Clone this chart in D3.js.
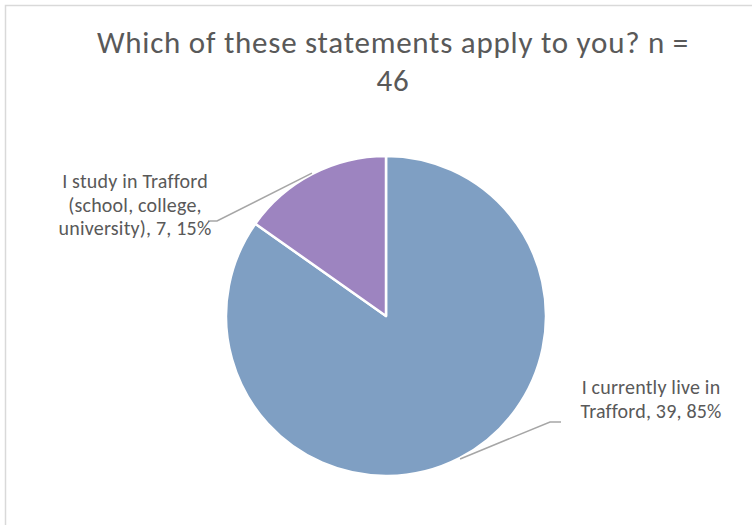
<!DOCTYPE html>
<html>
<head>
<meta charset="utf-8">
<script src="https://cdn.jsdelivr.net/npm/d3@7/dist/d3.min.js"></script>
<style>
  html, body { margin: 0; padding: 0; background: #fff; }
  svg { display: block; }
  text { font-family: Carlito, Lato, "Open Sans", sans-serif; fill: #595959; }
</style>
</head>
<body>
<svg id="chart" width="752" height="525"></svg>
<script>
// Survey responses
const categories = [
  "I currently live in Trafford",
  "I study in Trafford (school, college, university)"
];
const counts = [39, 7];
const colors = ["#7f9fc3", "#9d84c0"];
const titleLines = ["Which of these statements apply to you? n =", "46"];
// Data label text, broken into lines as they are displayed
const labelLines = [
  ["I currently live in", "Trafford, 39, 85%"],
  ["I study in Trafford", "(school, college,", "university), 7, 15%"]
];

const total = d3.sum(counts);
const svg = d3.select("#chart");

// Chart-area frame
svg.append("rect")
  .attr("x", 5.5).attr("y", 5.5)
  .attr("width", 800).attr("height", 600)
  .attr("fill", "#fff")
  .attr("stroke", "#d9d9d9").attr("stroke-width", 1.5);

// Title
const title = svg.append("text")
  .attr("text-anchor", "middle")
  .style("font-size", "31px")
  .style("letter-spacing", "0.75px");
title.selectAll("tspan").data(titleLines).join("tspan")
  .attr("x", 393)
  .attr("y", (d, i) => 53 + i * 38)
  .text(d => d);

// Pie
const cx = 386, cy = 316, radius = 160;
const pie = d3.pie().sort(null).startAngle(0).endAngle(2 * Math.PI);
const arc = d3.arc().innerRadius(0).outerRadius(radius);
const arcs = pie(counts);

const g = svg.append("g").attr("transform", `translate(${cx},${cy})`);
g.selectAll("path").data(arcs).join("path")
  .attr("d", arc)
  .attr("fill", (d, i) => colors[i])
  .attr("stroke", "#fff")
  .attr("stroke-width", 2.5)
  .attr("stroke-linejoin", "round");

// Label placement: elbow point of the leader line and text anchor, relative to pie centre
const labelLayout = [
  { elbow: [164, 106], hook: [175, 106], tx: 265, ty: 78, lh: 24 },
  { elbow: [-169, -95], hook: [-178, -95], tx: -251, ty: -128, lh: 23.5 }
];

arcs.forEach((a, i) => {
  const mid = (a.startAngle + a.endAngle) / 2;
  const r = radius + 1;
  const sx = Math.sin(mid) * r, sy = -Math.cos(mid) * r;
  const L = labelLayout[i];
  g.append("polyline")
    .attr("points", [[sx, sy], L.elbow, L.hook].map(p => p.join(",")).join(" "))
    .attr("fill", "none")
    .attr("stroke", "#a6a6a6")
    .attr("stroke-width", 1.5);

  const t = g.append("text")
    .attr("text-anchor", "middle")
    .style("font-size", "20px")
    .style("letter-spacing", "0.2px");
  t.selectAll("tspan").data(labelLines[i]).join("tspan")
    .attr("x", L.tx)
    .attr("y", (d, j) => L.ty + j * L.lh)
    .text(d => d);
});
</script>
</body>
</html>
